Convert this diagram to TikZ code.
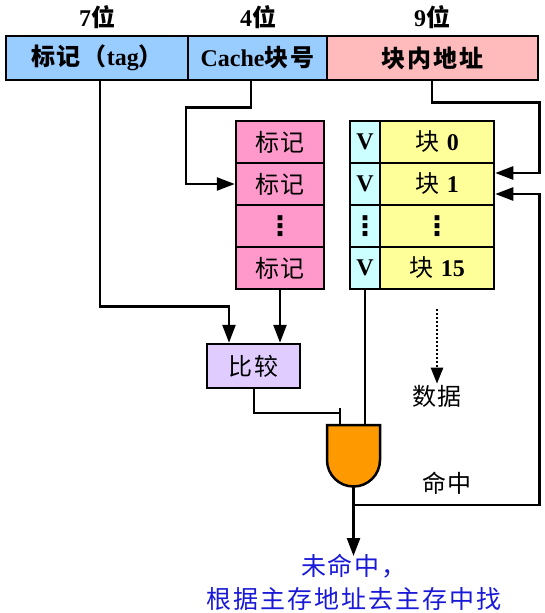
\documentclass[tikz,border=0pt]{standalone}
\usepackage{fontspec}
\setmainfont{Liberation Serif}
\newfontfamily\cjk[LetterSpace=8]{Noto Sans CJK SC}
\newfontfamily\dejavu{DejaVu Sans}
\usetikzlibrary{arrows.meta,calc}
\definecolor{barblue}{RGB}{153,204,255}
\definecolor{barpink}{RGB}{255,187,187}
\definecolor{tagpink}{RGB}{255,153,204}
\definecolor{vcyan}{RGB}{204,255,255}
\definecolor{blkyel}{RGB}{255,255,153}
\definecolor{cmplav}{RGB}{224,204,255}
\definecolor{gateor}{RGB}{255,153,0}
\definecolor{missblue}{RGB}{25,25,215}
\tikzset{
  field/.style={draw, line width=2.5pt, minimum height=44pt, inner sep=0pt,
    font=\fontsize{24}{26}\selectfont\bfseries},
  cell/.style={draw, line width=2.5pt, minimum height=42pt, inner sep=0pt,
    font=\fontsize{24}{26}\selectfont},
  lbl/.style={inner sep=0pt, font=\fontsize{24}{26}\selectfont\bfseries},
  txt/.style={inner sep=1pt, font=\fontsize{24}{26}\selectfont},
  arr/.style={line width=2.5pt, -{Triangle[length=18pt,width=13pt]}},
  wire/.style={line width=2.5pt},
  thinwire/.style={line width=2pt},
  vd/.style={font=\fontsize{27}{27}\selectfont\dejavu\bfseries},
}
\begin{document}
\begin{tikzpicture}[x=1pt,y=1pt]
\useasboundingbox (0,0) rectangle (544,-613);

% bit width labels
\node[lbl] (b7) at (97,-17) {7{\cjk 位}};
\node[lbl] (b4) at (258,-17) {4{\cjk 位}};
\node[lbl] (b9) at (432,-17) {9{\cjk 位}};

% address fields
\node[field, fill=barblue, minimum width=182pt] (tagf) at (97,-58) {{\cjk 标记（}tag{\cjk ）}};
\node[field, fill=barblue, minimum width=139pt] (idxf) at (257.5,-58) {Cache{\cjk 块号}};
\node[field, fill=barpink, minimum width=211pt] (offf) at (432.5,-58) {\cjk 块内地址};

% tag column
\node[cell, fill=tagpink, minimum width=88pt] (tag1) at (280,-142) {\cjk 标记};
\node[cell, fill=tagpink, minimum width=88pt] (tag2) at (280,-184) {\cjk 标记};
\node[cell, fill=tagpink, minimum width=88pt, vd] (tag3) at (280,-226) {⋮};
\node[cell, fill=tagpink, minimum width=88pt] (tag4) at (280,-268) {\cjk 标记};

% valid bits
\node[cell, fill=vcyan, minimum width=30pt] (v1) at (365,-142) {\bfseries V};
\node[cell, fill=vcyan, minimum width=30pt] (v2) at (365,-184) {\bfseries V};
\node[cell, fill=vcyan, minimum width=30pt, vd] (v3) at (365,-226) {⋮};
\node[cell, fill=vcyan, minimum width=30pt] (v4) at (365,-268) {\bfseries V};

% blocks
\node[cell, fill=blkyel, minimum width=114pt] (blk1) at (437,-142) {{\cjk 块} \textbf{0}};
\node[cell, fill=blkyel, minimum width=114pt] (blk2) at (437,-184) {{\cjk 块} \textbf{1}};
\node[cell, fill=blkyel, minimum width=114pt, vd] (blk3) at (437,-226) {⋮};
\node[cell, fill=blkyel, minimum width=114pt] (blk4) at (437,-268) {{\cjk 块} \textbf{15}};

% comparator
\node[cell, fill=cmplav, minimum width=93pt, minimum height=44pt] (cmp) at (253.5,-366) {\cjk 比较};

% AND gate
\draw[wire, fill=gateor] (327,-425) -- (380,-425) -- (380,-460)
  arc[start angle=0, end angle=-180, radius=26.5pt] -- cycle;
\coordinate (gin1) at (340,-425);
\coordinate (gin2) at (365,-425);
\coordinate (gout) at (353.5,-486.5);

% texts
\node[txt] (data) at (437,-396) {\cjk 数据};
\node[txt] (hit) at (447,-483) {\cjk 命中};
\node[inner sep=2pt, anchor=north, align=center, text=missblue,
  font=\fontsize{25}{33}\selectfont] (miss) at (354,-552)
  {{\cjk 未命中，}\\{\cjk 根据主存地址去主存中找}};

% connectors
\coordinate (c1) at ([xshift=-24.5pt]cmp.north);
\draw[arr] ([xshift=3pt]tagf.south) -- ++(0,-225) -| (c1);
\draw[arr] (tag4.south) -- (tag4.south |- cmp.north);
\draw[arr] ([xshift=-6.5pt]idxf.south) -- ++(0,-26) -- ++(-65,0) |- (tag2.west);
\coordinate (r1) at ($(offf.south east)+(0,-21)$);
\draw[arr] ([xshift=-0.5pt]offf.south) |- (r1) |- ([yshift=11pt]blk2.east);
\draw[thinwire] (cmp.south) |- ([yshift=12pt]gin1);
\draw[thinwire] ([yshift=17pt]gin1) -- (gin1);
\draw[wire] (v4.south) -- (gin2);
\coordinate (hitj) at ($(gout)+(0,-18.5)$);
\draw[arr] (gout) -- ([yshift=-4pt]gout |- miss.north);
\draw[arr] (hitj) -- (hitj -| offf.east) |- ([yshift=-10pt]blk2.east);
\draw[line width=2.5pt, dash pattern=on 2pt off 2pt, -{Triangle[length=16pt,width=12pt]}]
  ([yshift=-19pt]blk4.south) -- (data.north);
\end{tikzpicture}
\end{document}
